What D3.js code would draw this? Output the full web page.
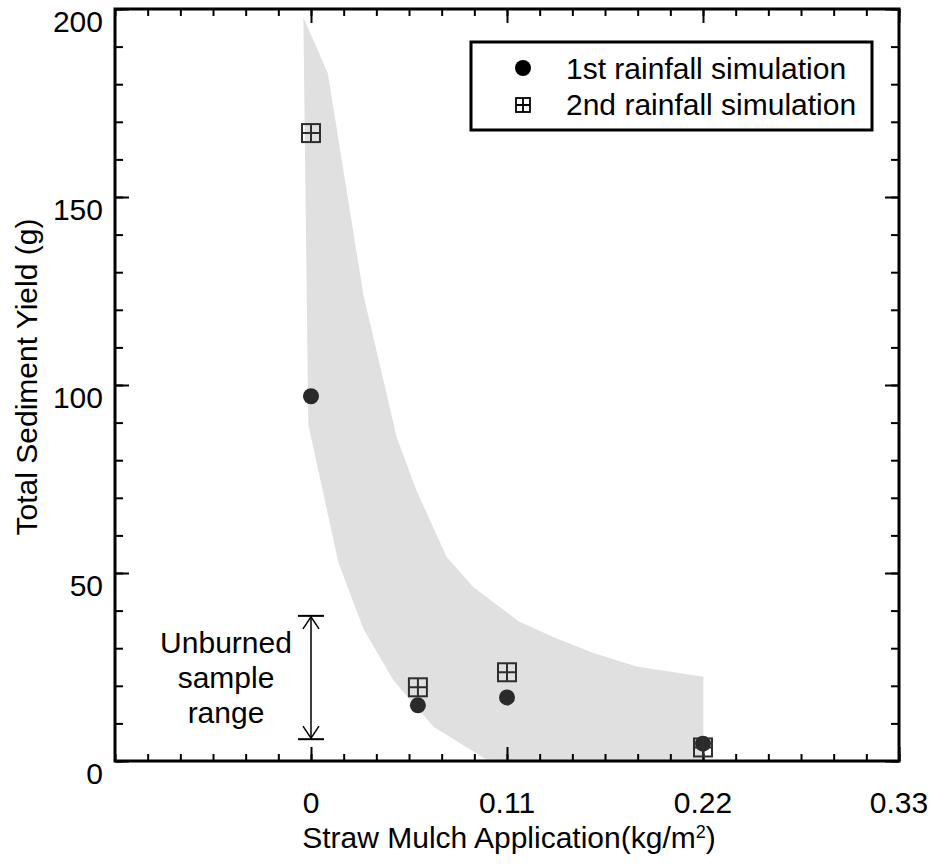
<!DOCTYPE html>
<html>
<head>
<meta charset="utf-8">
<script src="https://cdn.jsdelivr.net/npm/d3@7"></script>
<style>
  body { margin: 0; background: #fff; }
  text { font-family: "Liberation Sans", Arial, sans-serif; fill: #000; font-size: 30px; }
</style>
</head>
<body>
<svg id="chart" width="930" height="867"></svg>
<script>
// data
const mulch = [0, 0.06, 0.11, 0.22]
const firstRain = [97, 14.8, 16.9, 4.6]
const secondRain = [167, 19.6, 23.6, 3.6]

// shaded band: upper edge (left to right), lower edge (right to left)
const bandUpperX = [-0.0043, 0.0094, 0.0294, 0.0481, 0.0593, 0.0762, 0.0911, 0.1164, 0.1379, 0.1585, 0.1828, 0.2202]
const bandUpperY = [197.8, 183.0, 124.0, 86.1, 71.8, 54.2, 46.3, 37.2, 32.6, 28.7, 25.1, 22.4]
const bandLowerX = [0.2202, 0.0986, 0.0687, 0.0462, 0.0294, 0.0153, -0.0015]
const bandLowerY = [0, 0.3, 9.1, 21.5, 35.2, 52.9, 89.5]

// unburned sample range
const unburnedRange = [5.8, 38.6]
const unburnedLabel = ['Unburned', 'sample', 'range']

const xTickLabels = ['0', '0.11', '0.22', '0.33']
const yTickLabels = ['0', '50', '100', '150', '200']
const legendLabels = ['1st rainfall simulation', '2nd rainfall simulation']

// layout
const pLeft = 115, pRight = 899, pTop = 9, pBottom = 761
const svg = d3.select('#chart')

const x = d3.scaleLinear().domain([-0.11, 0.33]).range([pLeft, pRight])
const y = d3.scaleLinear().domain([0, 200]).range([pBottom, pTop])

// band
const bandPts = bandUpperX.map((v, i) => [v, bandUpperY[i]])
  .concat(bandLowerX.map((v, i) => [v, bandLowerY[i]]))
svg.append('path')
  .attr('d', d3.line().x(d => x(d[0])).y(d => y(d[1]))(bandPts) + 'Z')
  .attr('fill', '#e0e0e0')

// ticks
const xMinor = d3.range(0, 25).map(i => -0.11 + i * 0.11 / 6)
const xMajor = xTickLabels.map(Number)
const yMinor = d3.range(0, 21).map(i => i * 10)
const yMajor = yTickLabels.map(Number)

function ticks (axis, vals, size, tr) {
  const g = svg.append('g').attr('transform', tr)
    .call(axis.tickValues(vals).tickSize(size).tickFormat(''))
  g.select('.domain').remove()
  g.selectAll('line').attr('stroke', '#000').attr('stroke-width', 2)
  return g
}
ticks(d3.axisBottom(x), xMinor, -7, `translate(0,${pBottom})`)
ticks(d3.axisBottom(x), xMajor, -14, `translate(0,${pBottom})`)
ticks(d3.axisTop(x), xMinor, -7, `translate(0,${pTop})`)
ticks(d3.axisTop(x), xMajor, -14, `translate(0,${pTop})`)
ticks(d3.axisLeft(y), yMinor, -8, `translate(${pLeft},0)`)
ticks(d3.axisLeft(y), yMajor, -14, `translate(${pLeft},0)`)
ticks(d3.axisRight(y), yMinor, -8, `translate(${pRight},0)`)
ticks(d3.axisRight(y), yMajor, -14, `translate(${pRight},0)`)

// frame
svg.append('rect')
  .attr('x', pLeft).attr('y', pTop)
  .attr('width', pRight - pLeft).attr('height', pBottom - pTop)
  .attr('fill', 'none').attr('stroke', '#000').attr('stroke-width', 3)

// tick labels
svg.append('g').selectAll('text').data(xTickLabels).join('text')
  .attr('x', d => x(+d)).attr('y', 813)
  .attr('text-anchor', 'middle')
  .text(d => d)
svg.append('g').selectAll('text').data(yTickLabels).join('text')
  .attr('x', 103).attr('y', d => y(+d) + 23)
  .attr('text-anchor', 'end')
  .text(d => d)

// axis titles
const xt = svg.append('text')
  .attr('x', 509).attr('y', 848)
  .attr('text-anchor', 'middle')
xt.append('tspan').text('Straw Mulch Application(kg/m')
xt.append('tspan').attr('dy', -10).style('font-size', '18px').text('2')
xt.append('tspan').attr('dy', 10).text(')')

svg.append('text')
  .attr('transform', 'translate(37,377)rotate(-90)')
  .attr('text-anchor', 'middle')
  .text('Total Sediment Yield (g)')

// unburned range annotation
const ax = x(0)
const y0 = y(unburnedRange[0]), y1 = y(unburnedRange[1])
const ann = svg.append('g').attr('stroke', '#000').attr('fill', 'none')
ann.append('line').attr('x1', ax).attr('x2', ax).attr('y1', y0).attr('y2', y1).attr('stroke-width', 1.5)
ann.append('line').attr('x1', ax - 13).attr('x2', ax + 13).attr('y1', y0).attr('y2', y0).attr('stroke-width', 2)
ann.append('line').attr('x1', ax - 13).attr('x2', ax + 13).attr('y1', y1).attr('y2', y1).attr('stroke-width', 2)
ann.append('path').attr('d', `M${ax - 8},${y1 + 13}L${ax},${y1 + 1}L${ax + 8},${y1 + 13}`).attr('stroke-width', 1.5)
ann.append('path').attr('d', `M${ax - 8},${y0 - 13}L${ax},${y0 - 1}L${ax + 8},${y0 - 13}`).attr('stroke-width', 1.5)

svg.append('g').selectAll('text').data(unburnedLabel).join('text')
  .attr('x', 226).attr('y', (d, i) => 653 + i * 35)
  .attr('text-anchor', 'middle')
  .text(d => d)

// markers
function squareMark (g, cx, cy, s) {
  g.append('rect').attr('x', cx - s).attr('y', cy - s).attr('width', 2 * s).attr('height', 2 * s)
    .attr('fill', 'none').attr('stroke', '#2e2e2e').attr('stroke-width', 2)
  g.append('path').attr('d', `M${cx - s},${cy}H${cx + s}M${cx},${cy - s}V${cy + s}`)
    .attr('stroke', '#2e2e2e').attr('stroke-width', 2)
}

svg.append('g').selectAll('circle').data(mulch).join('circle')
  .attr('cx', d => x(d)).attr('cy', (d, i) => y(firstRain[i])).attr('r', 8)
  .attr('fill', '#2a2a2a')

const sq = svg.append('g')
mulch.forEach((d, i) => squareMark(sq, x(d), y(secondRain[i]), 9))

// legend
svg.append('rect')
  .attr('x', 471).attr('y', 42).attr('width', 401).attr('height', 88)
  .attr('fill', '#fff').attr('stroke', '#000').attr('stroke-width', 3)
svg.append('circle').attr('cx', 523).attr('cy', 68).attr('r', 8).attr('fill', '#000')
const lg = svg.append('g')
squareMark(lg, 523, 105, 7)
lg.selectAll('rect, path').attr('stroke', '#000').attr('stroke-width', 1.8)
svg.append('g').selectAll('text').data(legendLabels).join('text')
  .attr('x', 566).attr('y', (d, i) => 79 + i * 36)
  .text(d => d)
</script>
</body>
</html>
